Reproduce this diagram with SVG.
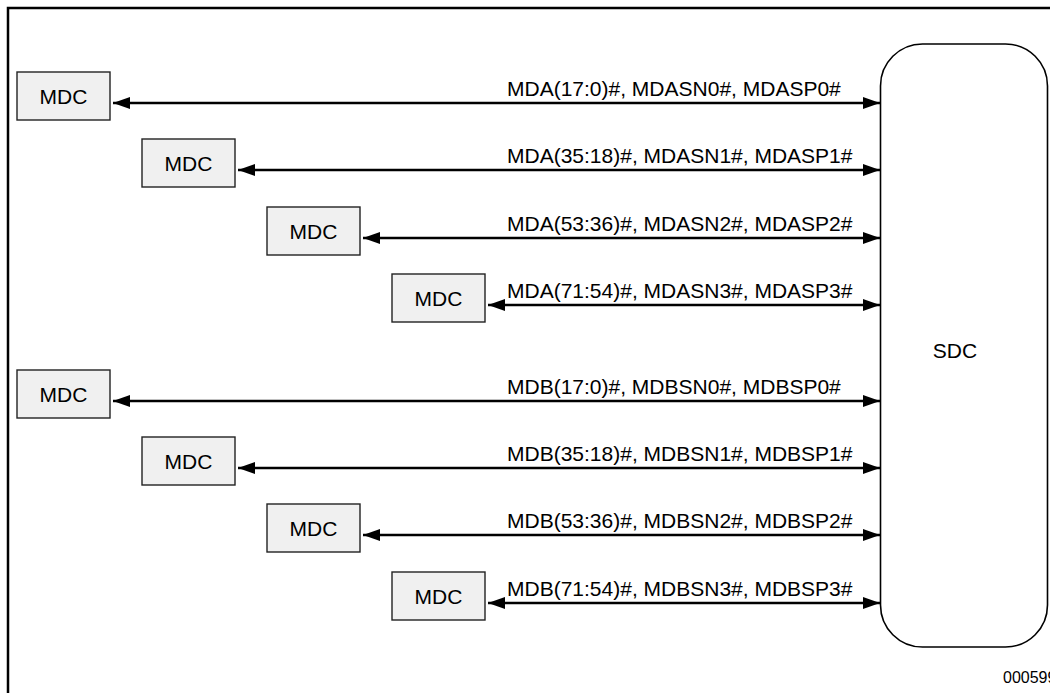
<svg xmlns="http://www.w3.org/2000/svg" width="1050" height="693" viewBox="0 0 1050 693">
<defs>
<style>
.t{font-family:"Liberation Sans",Arial,sans-serif;font-size:21px;fill:#000}
.box{fill:#f0f0f0;stroke:#222;stroke-width:1.4}
.w{stroke:#000;stroke-width:2.6;fill:none}
</style>
<marker id="ah" viewBox="0 0 17 12" refX="17" refY="6" markerWidth="17" markerHeight="12" markerUnits="userSpaceOnUse" orient="auto-start-reverse">
<path d="M0,0 L17,6 L0,12 Z" fill="#000"/>
</marker>
</defs>
<rect width="1050" height="693" fill="#fff"/>
<path d="M8,693 V8 H1050" fill="none" stroke="#000" stroke-width="2.5"/>
<g id="sdc">
<rect x="880.5" y="44" width="167" height="603" rx="42" ry="42" fill="#fff" stroke="#000" stroke-width="1.6"/>
<text class="t" x="955" y="358" text-anchor="middle">SDC</text>
</g>
<g id="mdc-a0"><rect class="box" x="17" y="72" width="93" height="48"/><text class="t" x="63.5" y="103.5" text-anchor="middle">MDC</text></g>
<g id="mdc-a1"><rect class="box" x="142" y="139" width="93" height="48"/><text class="t" x="188.5" y="170.5" text-anchor="middle">MDC</text></g>
<g id="mdc-a2"><rect class="box" x="267" y="207" width="93" height="48"/><text class="t" x="313.5" y="238.5" text-anchor="middle">MDC</text></g>
<g id="mdc-a3"><rect class="box" x="392" y="274" width="93" height="48"/><text class="t" x="438.5" y="305.5" text-anchor="middle">MDC</text></g>
<g id="mdc-b0"><rect class="box" x="17" y="370" width="93" height="48"/><text class="t" x="63.5" y="401.5" text-anchor="middle">MDC</text></g>
<g id="mdc-b1"><rect class="box" x="142" y="437" width="93" height="48"/><text class="t" x="188.5" y="468.5" text-anchor="middle">MDC</text></g>
<g id="mdc-b2"><rect class="box" x="267" y="504" width="93" height="48"/><text class="t" x="313.5" y="535.5" text-anchor="middle">MDC</text></g>
<g id="mdc-b3"><rect class="box" x="392" y="572" width="93" height="48"/><text class="t" x="438.5" y="603.5" text-anchor="middle">MDC</text></g>
<g id="connectors">
<line class="w" x1="113" y1="103" x2="880" y2="103" marker-start="url(#ah)" marker-end="url(#ah)"/>
<line class="w" x1="238" y1="170" x2="880" y2="170" marker-start="url(#ah)" marker-end="url(#ah)"/>
<line class="w" x1="363" y1="238" x2="880" y2="238" marker-start="url(#ah)" marker-end="url(#ah)"/>
<line class="w" x1="488" y1="305" x2="880" y2="305" marker-start="url(#ah)" marker-end="url(#ah)"/>
<line class="w" x1="113" y1="401" x2="880" y2="401" marker-start="url(#ah)" marker-end="url(#ah)"/>
<line class="w" x1="238" y1="468" x2="880" y2="468" marker-start="url(#ah)" marker-end="url(#ah)"/>
<line class="w" x1="363" y1="535" x2="880" y2="535" marker-start="url(#ah)" marker-end="url(#ah)"/>
<line class="w" x1="488" y1="603" x2="880" y2="603" marker-start="url(#ah)" marker-end="url(#ah)"/>
<text class="t" x="507" y="96">MDA(17:0)#, MDASN0#, MDASP0#</text>
<text class="t" x="507" y="163">MDA(35:18)#, MDASN1#, MDASP1#</text>
<text class="t" x="507" y="231">MDA(53:36)#, MDASN2#, MDASP2#</text>
<text class="t" x="507" y="298">MDA(71:54)#, MDASN3#, MDASP3#</text>
<text class="t" x="507" y="394">MDB(17:0)#, MDBSN0#, MDBSP0#</text>
<text class="t" x="507" y="461">MDB(35:18)#, MDBSN1#, MDBSP1#</text>
<text class="t" x="507" y="528">MDB(53:36)#, MDBSN2#, MDBSP2#</text>
<text class="t" x="507" y="596">MDB(71:54)#, MDBSN3#, MDBSP3#</text>
</g>
<text x="1003" y="683" style="font-family:'Liberation Sans',Arial,sans-serif;font-size:16px;fill:#000">000599</text>
</svg>
